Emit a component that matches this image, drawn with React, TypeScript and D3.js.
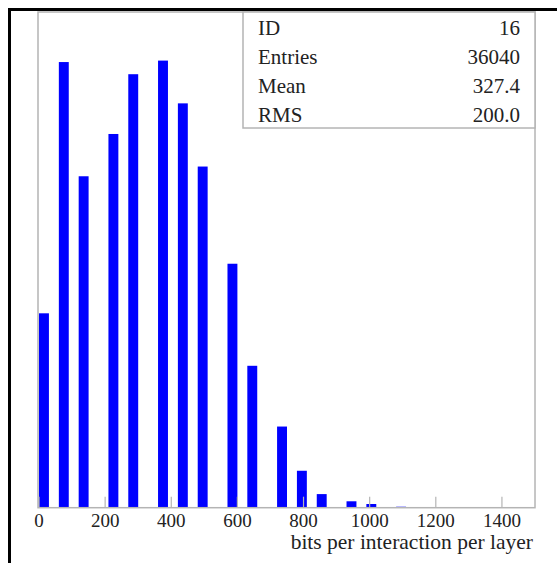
import React, { useEffect, useRef } from "react";
import * as d3 from "d3";

// histogram bins (lower edge, bin width 30) and their counts
const binStarts = [0, 60, 120, 210, 270, 360, 420, 480, 570, 630, 720, 780, 840, 930, 990, 1080, 1140];
const binCounts = [2000, 4585, 3410, 3845, 4460, 4600, 4160, 3510, 2510, 1460, 835, 380, 140, 66, 38, 10, 7];
const binWidth = 30;

const xTicks = [0, 200, 400, 600, 800, 1000, 1200, 1400];

const statLabels = ["ID", "Entries", "Mean", "RMS"];
const statValues = ["16", "36040", "327.4", "200.0"];

const width = 557;
const height = 563;
const frame = { left: 38, right: 535, top: 12, bottom: 507.7 };
const font = "'Liberation Serif', 'Times New Roman', serif";

export default function App() {
    const ref = useRef<SVGSVGElement>(null);

    useEffect(() => {
        const svg = d3.select(ref.current);
        svg.selectAll("*").remove();

        const xScale = d3.scaleLinear().domain([0, 1500]).range([39, frame.right]);
        const yScale = d3.scaleLinear().domain([0, 5100]).range([frame.bottom, frame.top]);

        // outer black border (only top and left show in the picture)
        svg.append("path")
            .attr("d", `M9.5,${height + 5} L9.5,9.5 L${width + 5},9.5`)
            .attr("fill", "none")
            .attr("stroke", "#000")
            .attr("stroke-width", 3);

        const data = binStarts.map((s, i) => ({ start: s, count: binCounts[i] }));

        // bars
        svg.append("g")
            .attr("fill", "#0000ff")
            .selectAll("rect")
            .data(data)
            .join("rect")
            .attr("x", d => xScale(d.start))
            .attr("y", d => yScale(d.count))
            .attr("width", d => xScale(d.start + binWidth) - xScale(d.start))
            .attr("height", d => yScale(0) - yScale(d.count));

        // plot frame
        svg.append("rect")
            .attr("x", frame.left)
            .attr("y", frame.top)
            .attr("width", frame.right - frame.left)
            .attr("height", frame.bottom - frame.top)
            .attr("fill", "none")
            .attr("stroke", "#b4b4b4")
            .attr("stroke-width", 1.5);

        // x ticks pointing up, labels below
        const ticks = svg.append("g");
        ticks.selectAll("line")
            .data(xTicks)
            .join("line")
            .attr("x1", d => xScale(d))
            .attr("x2", d => xScale(d))
            .attr("y1", frame.bottom)
            .attr("y2", frame.bottom - 11)
            .attr("stroke", "#b4b4b4")
            .attr("stroke-width", 1.2);
        ticks.selectAll("text")
            .data(xTicks)
            .join("text")
            .attr("x", d => xScale(d))
            .attr("y", 527)
            .attr("text-anchor", "middle")
            .attr("font-family", font)
            .attr("font-size", 19)
            .attr("fill", "#222")
            .text(d => d);

        svg.append("text")
            .attr("x", 533)
            .attr("y", 549)
            .attr("text-anchor", "end")
            .attr("font-family", font)
            .attr("font-size", 21.5)
            .attr("fill", "#222")
            .text("bits per interaction per layer");

        // stats box
        const box = { x: 243, y: frame.top, w: frame.right - 243, h: 128 - frame.top };
        svg.append("rect")
            .attr("x", box.x)
            .attr("y", box.y)
            .attr("width", box.w)
            .attr("height", box.h)
            .attr("fill", "#fff")
            .attr("stroke", "#b4b4b4")
            .attr("stroke-width", 1.5);

        const rowY = (i: number) => 34.7 + i * 29;
        svg.append("g").selectAll("text")
            .data(statLabels)
            .join("text")
            .attr("x", 258)
            .attr("y", (d, i) => rowY(i))
            .attr("font-family", font)
            .attr("font-size", 21)
            .attr("fill", "#222")
            .text(d => d);
        svg.append("g").selectAll("text")
            .data(statValues)
            .join("text")
            .attr("x", 520)
            .attr("y", (d, i) => rowY(i))
            .attr("text-anchor", "end")
            .attr("font-family", font)
            .attr("font-size", 21)
            .attr("fill", "#222")
            .text(d => d);
    }, []);

    return (
        <svg
            ref={ref}
            width={width}
            height={height}
            style={{ position: "absolute", left: 0, top: 0, background: "#fff" }}
        />
    );
}
